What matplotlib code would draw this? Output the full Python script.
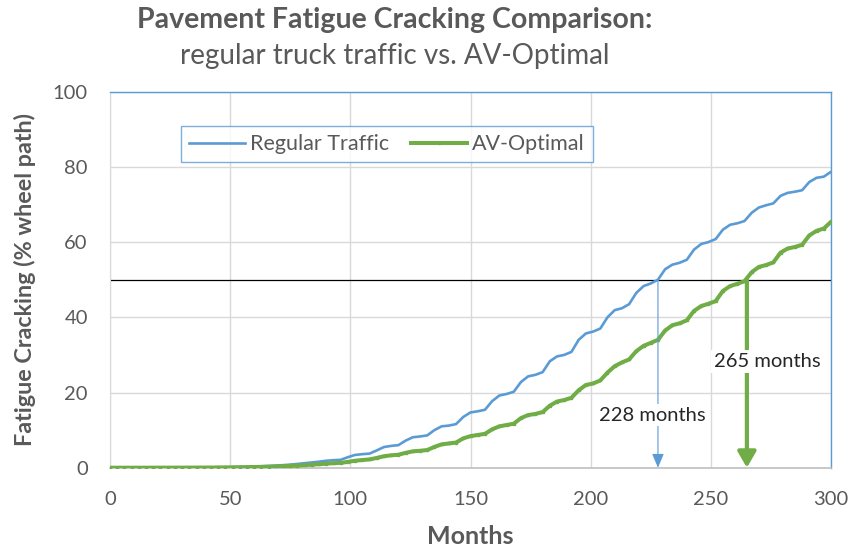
import matplotlib
matplotlib.use("Agg")
import matplotlib.pyplot as plt
from matplotlib.lines import Line2D

plt.rcParams['font.family'] = ['Lato', 'DejaVu Sans']

# ---- data ----
months = list(range(0, 301, 3))
regular_traffic = [
    0.00, 0.00, 0.00, 0.00, 0.00, 0.01, 0.01, 0.02, 0.02, 0.03,
    0.04, 0.05, 0.06, 0.07, 0.08, 0.10, 0.12, 0.15, 0.20, 0.25,
    0.30, 0.38, 0.46, 0.56, 0.68, 0.82, 1.00, 1.20, 1.40, 1.60,
    1.85, 2.00, 2.10, 2.80, 3.40, 3.60, 3.75, 4.60, 5.50, 5.80,
    6.00, 7.20, 8.10, 8.30, 8.60, 10.0, 11.0, 11.2, 11.6, 13.5,
    14.7, 15.0, 15.4, 17.7, 19.2, 19.6, 20.2, 22.8, 24.3, 24.7,
    25.4, 28.3, 29.6, 30.0, 30.8, 34.0, 35.7, 36.2, 37.0, 40.0,
    41.9, 42.4, 43.5, 46.5, 48.3, 49.0, 50.0, 52.8, 54.0, 54.5,
    55.3, 58.0, 59.5, 60.0, 60.8, 63.3, 64.6, 65.0, 65.6, 67.8,
    69.2, 69.8, 70.3, 72.3, 73.1, 73.4, 73.8, 76.0, 77.1, 77.4,
    78.7,
]
av_optimal = [
    0.00, 0.00, 0.00, 0.00, 0.00, 0.00, 0.01, 0.01, 0.01, 0.02,
    0.02, 0.03, 0.03, 0.04, 0.05, 0.06, 0.07, 0.09, 0.11, 0.14,
    0.18, 0.22, 0.27, 0.33, 0.40, 0.48, 0.57, 0.68, 0.80, 0.93,
    1.07, 1.20, 1.28, 1.55, 1.85, 2.05, 2.20, 2.60, 3.05, 3.30,
    3.45, 3.95, 4.35, 4.50, 4.70, 5.55, 6.20, 6.45, 6.70, 7.80,
    8.40, 8.70, 9.00, 10.2, 11.0, 11.35, 11.7, 13.2, 14.0, 14.3,
    14.8, 16.5, 17.6, 18.0, 18.6, 20.6, 22.0, 22.4, 23.2, 25.3,
    27.0, 28.0, 28.8, 31.0, 32.4, 33.2, 34.0, 36.5, 37.9, 38.4,
    39.2, 41.7, 43.0, 43.6, 44.3, 47.0, 48.3, 48.9, 49.6, 52.0,
    53.4, 53.9, 54.6, 57.2, 58.3, 58.7, 59.3, 61.8, 63.0, 63.6,
    65.4,
]
threshold = 50
regular_month = 228
av_month = 265
x_ticks = [0, 50, 100, 150, 200, 250, 300]
y_ticks = [0, 20, 40, 60, 80, 100]

BLUE = '#5B9BD5'
GREEN = '#70AD47'
GREY = '#595959'

fig = plt.figure(figsize=(8.52, 5.52), dpi=100)
ax = fig.add_axes([110/852, 1-467.7/552, 721/852, 376/552])

ax.set_xlim(0, 300)
ax.set_ylim(0, 100)
ax.set_xticks(x_ticks)
ax.set_yticks(y_ticks)
ax.grid(True, color='#d9d9d9', linewidth=1.0)
ax.set_axisbelow(True)
ax.tick_params(length=0, labelsize=14.5, labelcolor=GREY)
ax.tick_params(axis='x', pad=17)
ax.tick_params(axis='y', pad=16)

for s in ['top', 'right']:
    ax.spines[s].set_color(BLUE)
    ax.spines[s].set_linewidth(1.0)
ax.spines['left'].set_color('#d9d9d9')
ax.spines['bottom'].set_color('#bfbfbf')
ax.spines['bottom'].set_linewidth(1.2)

ax.axhline(threshold, color='#000000', linewidth=0.9, zorder=2)

ax.plot(months, regular_traffic, color=BLUE, linewidth=1.9, zorder=3,
        solid_capstyle='round')
ax.plot(months, av_optimal, color=GREEN, linewidth=2.9, zorder=4,
        marker='s', markersize=1.8, markevery=1, solid_capstyle='round')

# arrows
ax.annotate('', xy=(regular_month, 0), xytext=(regular_month, threshold),
            arrowprops=dict(arrowstyle='-|>,head_length=0.85,head_width=0.36',
                            mutation_scale=10, color=BLUE, lw=0.8,
                            shrinkA=0, shrinkB=0), zorder=5)
ax.annotate('', xy=(av_month, 0), xytext=(av_month, threshold),
            arrowprops=dict(arrowstyle='-|>,head_length=0.95,head_width=0.55',
                            mutation_scale=10, color=GREEN, lw=3.0,
                            shrinkA=0, shrinkB=0), zorder=5)

ax.text(225.7, 14.0, f'{regular_month} months', ha='center', va='center',
        fontsize=14.5, color='#262626', zorder=6,
        bbox=dict(facecolor='white', edgecolor='none', pad=2))
ax.text(273.6, 28.2, f'{av_month} months', ha='center', va='center',
        fontsize=14.5, color='#262626', zorder=6,
        bbox=dict(facecolor='white', edgecolor='none', pad=2))

ax.set_xlabel('Months', fontsize=18, fontweight='bold', color=GREY, labelpad=12)
ax.set_ylabel('Fatigue Cracking (% wheel path)', fontsize=16.8, fontweight='bold',
              color=GREY, labelpad=12)

handles = [Line2D([], [], color=BLUE, linewidth=1.9),
           Line2D([], [], color=GREEN, linewidth=2.9, marker='s', markersize=1.8)]
leg = ax.legend(handles, ['Regular Traffic', 'AV-Optimal'], ncol=2,
                loc='upper left', bbox_to_anchor=(0.098, 0.909),
                fontsize=15.5, frameon=True, fancybox=False, edgecolor=BLUE,
                handlelength=2.6, handletextpad=0.25, columnspacing=1.0,
                borderpad=0.38, borderaxespad=0)
leg.get_frame().set_linewidth(1.0)
for t in leg.get_texts():
    t.set_color(GREY)

fig.text(395/852, 1-20/552, 'Pavement Fatigue Cracking Comparison:',
         ha='center', va='center', fontsize=20.5, fontweight='bold', color=GREY)
fig.text(395/852, 1-56/552, 'regular truck traffic vs. AV-Optimal',
         ha='center', va='center', fontsize=20, color=GREY)

fig.savefig('out.png', dpi=100)
